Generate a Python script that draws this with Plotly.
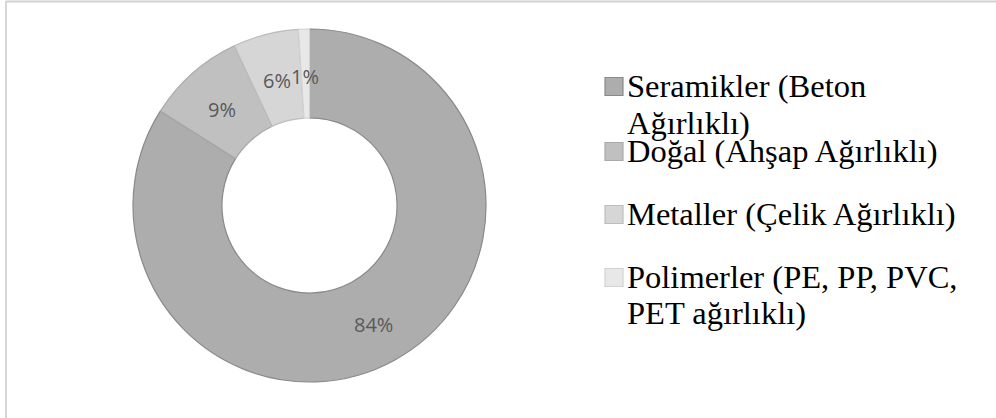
import math
import plotly.graph_objects as go

# ---- data ----
categories = [
    "Seramikler (Beton Ağırlıklı)",
    "Doğal (Ahşap Ağırlıklı)",
    "Metaller (Çelik Ağırlıklı)",
    "Polimerler (PE, PP, PVC, PET ağırlıklı)",
]
values = [84, 9, 6, 1]
legend_lines = [
    ["Seramikler (Beton", "Ağırlıklı)"],
    ["Doğal (Ahşap Ağırlıklı)"],
    ["Metaller (Çelik Ağırlıklı)"],
    ["Polimerler (PE, PP, PVC,", "PET ağırlıklı)"],
]
slice_colors = ["#adadad", "#c0c0c0", "#d6d6d6", "#e8e8e8"]
slice_lines = ["#8a8a8a", "#a9a9a9", "#bdbdbd", "#d2d2d2"]

W, H = 996, 418


def px(x):
    return x / W


def py(y):
    return 1 - y / H


# donut geometry (pixels)
DX0, DX1, DY0, DY1 = 133, 486, 29, 382
HOLE = 0.496
cx, cy = (DX0 + DX1) / 2, (DY0 + DY1) / 2
R = (DX1 - DX0) / 2

fig = go.Figure()
fig.add_trace(go.Pie(
    labels=categories,
    values=values,
    hole=HOLE,
    sort=False,
    direction="clockwise",
    rotation=0,
    marker=dict(colors=slice_colors, line=dict(color=slice_lines, width=1.2)),
    textinfo="none",
    domain=dict(x=[px(DX0), px(DX1)], y=[py(DY1), py(DY0)]),
    showlegend=False,
    hoverinfo="label+percent",
))

annotations = []
# percentage labels at mid-ring along each slice bisector
total = sum(values)
cum = 0
rmid = R * (1 + HOLE) / 2
for v in values:
    theta = 2 * math.pi * (cum + v / 2) / total
    lx = cx + rmid * math.sin(theta)
    ly = cy - rmid * math.cos(theta) + 3
    annotations.append(dict(
        text=f"{round(100 * v / total)}%", xref="paper", yref="paper",
        x=px(lx), y=py(ly), xanchor="center", yanchor="middle",
        showarrow=False,
        font=dict(family="Open Sans", size=20, color="#595959"),
    ))
    cum += v

# ---- manual legend (matching reference wrapping) ----
shapes = []
line_centers = [[86, 123], [151], [214], [277, 313]]
for i, lines in enumerate(legend_lines):
    yc = line_centers[i][0] + 0.5
    shapes.append(dict(
        type="rect", xref="paper", yref="paper",
        x0=px(605), x1=px(623), y0=py(yc + 9), y1=py(yc - 9),
        fillcolor=slice_colors[i], line=dict(color=slice_lines[i], width=1.2),
    ))
    for j, txt in enumerate(lines):
        annotations.append(dict(
            text=txt, xref="paper", yref="paper",
            x=px(625), y=py(line_centers[i][j]),
            xanchor="left", yanchor="middle", showarrow=False,
            font=dict(family="Liberation Serif", size=32.5, color="#000000"),
        ))

# chart border (top and left visible, rest cut off)
shapes.append(dict(
    type="rect", xref="paper", yref="paper",
    x0=px(6), x1=px(W + 10), y0=py(H + 10), y1=py(1.5),
    line=dict(color="#d2d2d2", width=1.8), fillcolor="rgba(0,0,0,0)",
))

fig.update_layout(
    width=W, height=H,
    margin=dict(l=0, r=0, t=0, b=0),
    paper_bgcolor="white",
    plot_bgcolor="white",
    shapes=shapes,
    annotations=annotations,
)

fig.write_html(
    "out.html",
    config={"displayModeBar": False},
    post_script="document.body.style.margin='0';document.body.style.overflow='hidden';",
)
